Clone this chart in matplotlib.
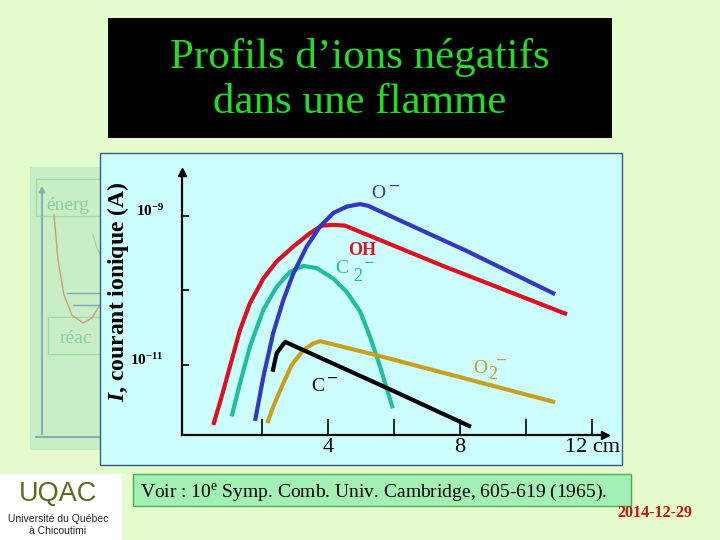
import numpy as np
import matplotlib
matplotlib.use('Agg')
import matplotlib.pyplot as plt
from matplotlib.patches import Rectangle
from matplotlib.ticker import FixedLocator, NullLocator

plt.rcParams['font.family'] = ['Liberation Serif', 'DejaVu Serif']
plt.rcParams['mathtext.fontset'] = 'custom'
plt.rcParams['mathtext.rm'] = 'Liberation Serif'
plt.rcParams['mathtext.it'] = 'Liberation Serif:italic:bold'
plt.rcParams['mathtext.bf'] = 'Liberation Serif:bold'

# ---------------- data (distance in cm, log10 of ion current in A) -------------
dist_O = [1.79, 2.04, 2.34, 2.645, 2.95, 3.355, 3.76, 4.16, 4.565, 4.97, 5.22, 8.2, 10.88]
logI_O = [-11.75, -11.16, -10.57, -10.13, -9.77, -9.41, -9.14, -8.96, -8.875, -8.84, -8.865, -9.47, -10.05]

dist_OH = [0.525, 0.778, 1.03, 1.333, 1.636, 2.04, 2.445, 2.95, 3.455, 3.81, 4.16, 4.515, 7.48, 11.24]
logI_OH = [-11.805, -11.425, -11.02, -10.53, -10.17, -9.84, -9.61, -9.41, -9.23, -9.13, -9.12, -9.13, -9.67, -10.32]

dist_C2 = [1.08, 1.33, 1.636, 2.04, 2.445, 2.85, 3.25, 3.66, 4.16, 4.565, 4.97, 5.27, 5.575, 5.96]
logI_C2 = [-11.69, -11.25, -10.75, -10.26, -9.95, -9.75, -9.67, -9.70, -9.84, -10.02, -10.28, -10.62, -11.02, -11.58]

dist_C = [2.32, 2.445, 2.70, 5.79, 8.33]
logI_C = [-11.09, -10.84, -10.69, -11.31, -11.83]

dist_O2 = [2.16, 2.34, 2.60, 2.90, 3.25, 3.555, 3.76, 5.48, 10.88]
logI_O2 = [-11.78, -11.56, -11.29, -11.0, -10.80, -10.71, -10.68, -10.87, -11.50]

x_ticks = [2, 4, 6, 8, 10, 12]
x_ticklabels = ['', '4', '', '8', '', '12 cm']
y_ticks = [1e-11, 1e-10, 1e-9]
y_ticklabels = [r'$\mathbf{10^{-11}}$', '', r'$\mathbf{10^{-9}}$']

c_O = '#3438c0'
c_OH = '#dd1020'
c_C2 = '#1fbf9c'
c_C = '#000000'
c_O2 = '#c8a020'

BG = '#e5fccc'

fig = plt.figure(figsize=(7.2, 5.4), dpi=100, facecolor=BG)

# ---------------- background slide (pixel coordinates) ----------------
bg = fig.add_axes([0, 0, 1, 1], zorder=0)
bg.set_xlim(0, 720)
bg.set_ylim(540, 0)
bg.axis('off')

clip = Rectangle((0, 0), 100, 540, transform=bg.transData)

# faded underlying slide content on the left
bg.add_patch(Rectangle((30, 167), 75, 283, fc='#c8eec6', ec='none', zorder=1))
bg.add_patch(Rectangle((36, 179), 70, 37, fc='none', ec='#a3dca3', lw=1, zorder=2))
t1 = bg.text(46, 210, 'énerg', fontsize=14, color='#8ccf98', zorder=2)
t1.set_clip_path(clip)
bg.add_patch(Rectangle((48, 317), 58, 37, fc='none', ec='#a3dca3', lw=1, zorder=2))
t2 = bg.text(60, 343, 'réac', fontsize=14, color='#8ccf98', zorder=2)
t2.set_clip_path(clip)
bg.annotate('', xy=(42, 183), xytext=(42, 437),
            arrowprops=dict(arrowstyle='-|>', color='#84b2b0', lw=1.5, mutation_scale=8), zorder=2)
bg.plot([36, 104], [437, 437], color='#84b2b0', lw=1.5, zorder=2)
bg.plot([54, 58, 64, 72, 83, 92, 100, 104], [215, 260, 295, 315, 323, 318, 305, 296],
        color='#cf9c7c', lw=1, zorder=2)
bg.plot([67, 104], [293, 293], color='#8a9fb2', lw=1, zorder=2)
bg.plot([73, 104], [305, 305], color='#8a9fb2', lw=1, zorder=2)
bg.plot([93, 97, 104], [235, 248, 262], color='#99dd99', lw=1, zorder=2)

# chart panel
bg.add_patch(Rectangle((100, 153), 522, 312, fc='#ccfefe', ec='#3b5a88', lw=1, zorder=3))

# title box
bg.add_patch(Rectangle((108, 18), 504, 120, fc='black', ec='none', zorder=3))
bg.text(360, 68, 'Profils d’ions négatifs', fontsize=31, color='#22dd22',
        ha='center', va='baseline', zorder=4)
bg.text(360, 113, 'dans une flamme', fontsize=31, color='#22dd22',
        ha='center', va='baseline', zorder=4)

# reference box
bg.add_patch(Rectangle((133, 474), 498, 32, fc='#a3f0b4', ec='#4aae55', lw=1, zorder=3))
bg.text(140, 497, r'Voir : 10$^{\mathrm{e}}$ Symp. Comb. Univ. Cambridge, 605-619 (1965).',
        fontsize=14, color='black', ha='left', va='baseline', zorder=4)

# date
bg.text(655, 517, '2014-12-29', fontsize=11.5, fontweight='bold', color='#cc1010',
        ha='center', va='baseline', zorder=4)

# logo
bg.add_patch(Rectangle((0, 474), 122, 66, fc='white', ec='none', zorder=3))
bg.text(58, 501, 'UQAC', fontsize=19.5, color='#5d6b1e', family='Liberation Sans',
        ha='center', va='baseline', zorder=4)
bg.text(58, 522, 'Université du Québec', fontsize=7.5, color='#222222', family='Liberation Sans',
        ha='center', va='baseline', zorder=4)
bg.text(58, 534, 'à Chicoutimi', fontsize=7.5, color='#222222', family='Liberation Sans',
        ha='center', va='baseline', zorder=4)

# ---------------- main chart ----------------
ax = fig.add_axes([182 / 720, (540 - 435) / 540, (605 - 182) / 720, (435 - 172) / 540], zorder=2)
ax.set_facecolor('none')
ax.set_yscale('log')
ax.set_xlim(-0.424, 12.39)
ax.set_ylim(10 ** -11.94, 10 ** -8.41)
for s in ['top', 'right']:
    ax.spines[s].set_visible(False)
for s in ['left', 'bottom']:
    ax.spines[s].set_linewidth(1.6)
ax.plot(1, 0, '>k', transform=ax.transAxes, clip_on=False, ms=6)
ax.plot(0, 1, '^k', transform=ax.transAxes, clip_on=False, ms=6)

ax.xaxis.set_major_locator(FixedLocator(x_ticks))
ax.set_xticklabels(x_ticklabels)
ax.yaxis.set_major_locator(FixedLocator(y_ticks))
ax.yaxis.set_minor_locator(NullLocator())
ax.set_yticklabels(y_ticklabels)
ax.tick_params(axis='x', direction='in', length=11.5, width=1.2, labelsize=16, pad=2)
ax.tick_params(axis='y', direction='in', length=5, width=1.2, labelsize=11, pad=13)
for lbl in ax.get_yticklabels():
    lbl.set_va('baseline')

series = [(dist_OH, logI_OH, c_OH), (dist_C2, logI_C2, c_C2), (dist_O, logI_O, c_O),
          (dist_O2, logI_O2, c_O2), (dist_C, logI_C, c_C)]
for d, li, c in series:
    ax.plot(d, np.power(10.0, li), color=c, lw=3, solid_joinstyle='round',
            solid_capstyle='butt')

def lab(x, ly, s, c, size=14, ha='left', weight='normal'):
    ax.text(x, 10 ** ly, s, color=c, fontsize=size, ha=ha, va='baseline', fontweight=weight)

lab(5.30, -8.758, 'O', c_O)
lab(6.015, -8.678, '−', c_O, ha='center', weight='bold')
lab(4.61, -9.52, 'OH', c_OH, size=13, weight='bold')
lab(4.21, -9.765, 'C', c_C2)
lab(4.76, -9.87, '2', c_C2, size=13)
lab(5.24, -9.70, '−', c_C2, size=13, ha='center', weight='bold')
lab(3.485, -11.349, 'C', c_C)
lab(4.15, -11.255, '−', c_C, ha='center', weight='bold')
lab(8.39, -11.107, 'O', c_O2)
lab(8.85, -11.188, '2', c_O2, size=13)
lab(9.26, -11.013, '−', c_O2, ha='center', weight='bold')

ax.text(-0.152, 0.544, r'$I$, courant ionique (A)', rotation=90, ha='center', va='center',
        fontsize=17, fontweight='bold', transform=ax.transAxes)

fig.savefig('out.png', dpi=100, facecolor=BG)
